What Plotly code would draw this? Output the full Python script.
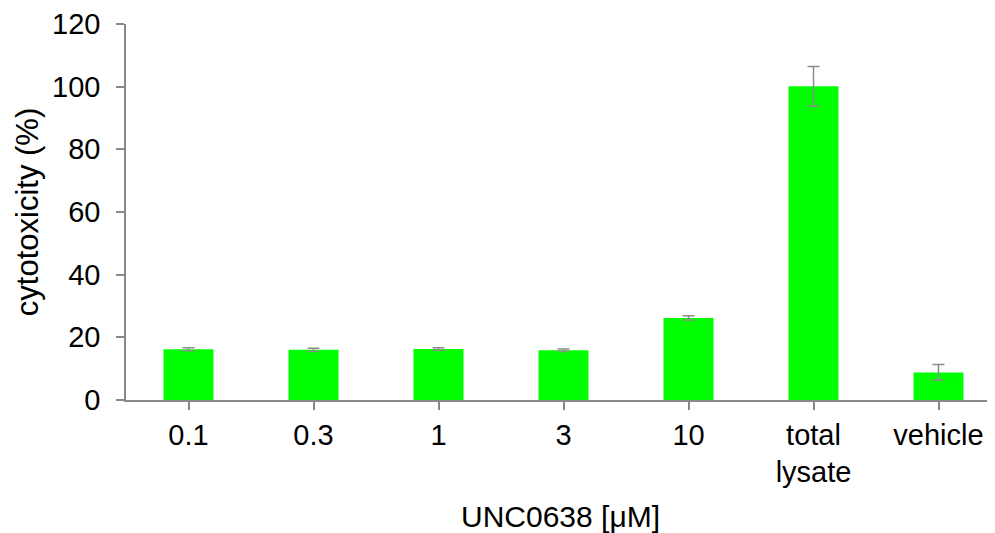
import plotly.graph_objects as go

categories = ["0.1", "0.3", "1", "3", "10", "total<br>lysate", "vehicle"]
values = [16.2, 16.0, 16.3, 15.9, 26.2, 100.1, 8.8]
errors = [0.5, 0.5, 0.4, 0.4, 0.7, 6.3, 2.5]
y_ticks = [0, 20, 40, 60, 80, 100, 120]

FONT = "Liberation Sans, Arial, sans-serif"
AXIS_COLOR = "#898989"
TICK_SIZE = 29
TITLE_SIZE = 30

fig = go.Figure(
    go.Bar(
        x=list(range(len(categories))),
        y=values,
        width=0.4,
        marker=dict(color="#00FF00", line=dict(width=0)),
        error_y=dict(type="data", array=errors, visible=True,
                     color="#8c8c8c", thickness=1.5, width=6),
    )
)

# page body has an 8px margin, so the figure is sized/offset to compensate
fig.update_layout(
    width=987, height=525,
    margin=dict(l=118, r=0, t=16, b=133),
    paper_bgcolor="white", plot_bgcolor="white",
    font=dict(family=FONT, size=TICK_SIZE, color="black"),
    showlegend=False,
)

fig.update_xaxes(
    range=[-0.5, -0.5 + 869 / 125],
    tickmode="array",
    tickvals=list(range(len(categories))),
    ticktext=categories,
    showline=True, linecolor=AXIS_COLOR, linewidth=1.5,
    ticks="outside", ticklen=8, tickcolor=AXIS_COLOR, tickwidth=1.5,
    tickson="boundaries",
    showgrid=False, zeroline=False,
    tickfont=dict(family=FONT, size=TICK_SIZE, color="black"),
    title=dict(text="UNC0638 [μM]", font=dict(family=FONT, size=TITLE_SIZE, color="black"), standoff=20),
    automargin=False,
)

fig.update_yaxes(
    range=[0, 120],
    tickmode="array", tickvals=y_ticks,
    showline=True, linecolor=AXIS_COLOR, linewidth=1.5,
    ticks="outside", ticklen=8, tickcolor=AXIS_COLOR, tickwidth=1.5,
    ticklabelstandoff=10,
    showgrid=False, zeroline=False,
    tickfont=dict(family=FONT, size=TICK_SIZE, color="black"),
    title=dict(text="cytotoxicity (%)", font=dict(family=FONT, size=31, color="black"), standoff=4),
    automargin=False,
)

fig.write_html("out.html")
